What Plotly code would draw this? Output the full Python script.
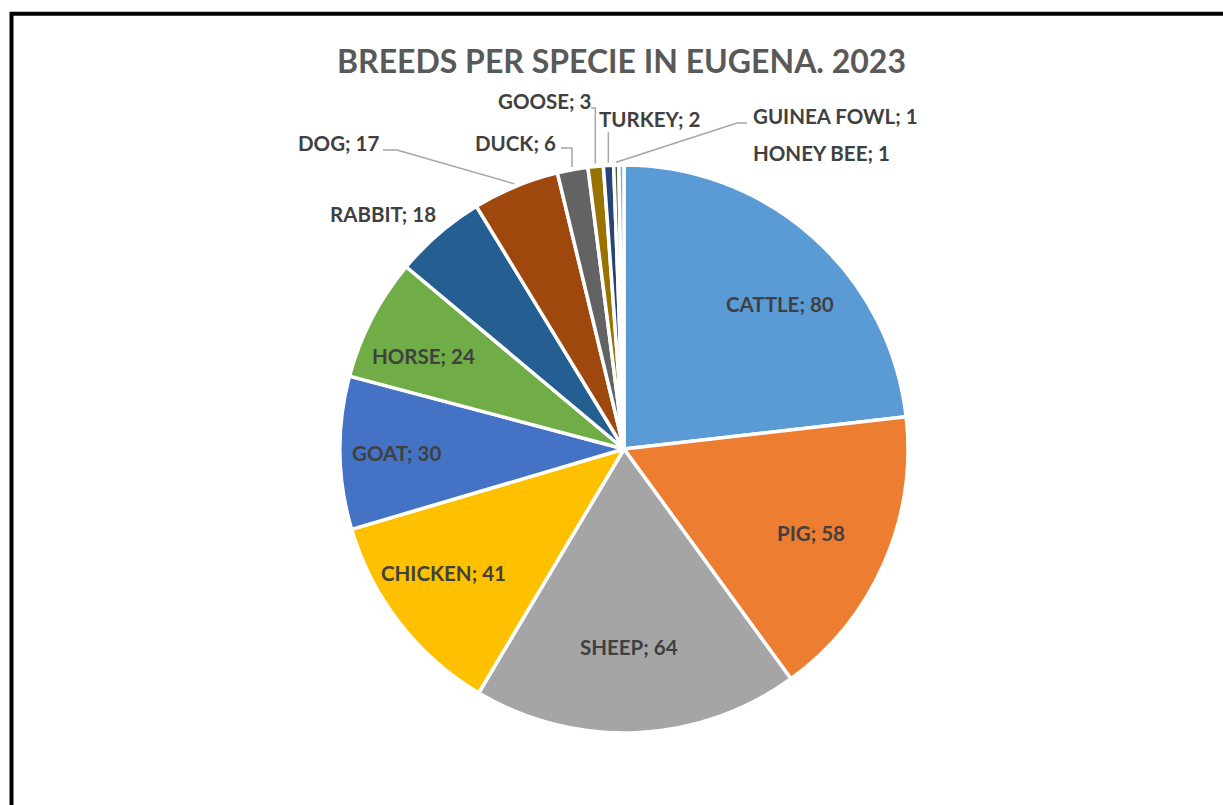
import math
import plotly.graph_objects as go

# ---- data ----
species = ["CATTLE", "PIG", "SHEEP", "CHICKEN", "GOAT", "HORSE", "RABBIT",
           "DOG", "DUCK", "GOOSE", "TURKEY", "GUINEA FOWL", "HONEY BEE"]
breeds = [80, 58, 64, 41, 30, 24, 18, 17, 6, 3, 2, 1, 1]
colors = ["#5B9BD5", "#ED7D31", "#A5A5A5", "#FFC000", "#4472C4", "#70AD47",
          "#255E91", "#9E480E", "#636363", "#997300", "#264478", "#43682B", "#7CAFDD"]
title_text = "BREEDS PER SPECIE IN EUGENA. 2023"

W, H = 1223, 805
CX, CY, R = 624, 449, 284  # pie centre and radius in pixels
FONT = "Lato"
LABEL_COLOR = "#404040"
LABEL_SIZE = 20.5

def px(x):
    return x / W

def py(y):
    return 1 - y / H

fig = go.Figure(go.Pie(
    labels=species, values=breeds, sort=False, direction="clockwise", rotation=0,
    marker=dict(colors=colors, line=dict(color="white", width=3.5)),
    textinfo="none",
    domain=dict(x=[px(CX - R), px(CX + R)], y=[py(CY + R), py(CY - R)]),
    showlegend=False, hoverinfo="label+value",
))

total = sum(breeds)
cum = []
s = 0
for v in breeds:
    cum.append(s + v / 2)
    s += v

def edge_point(i, rf=1.01):
    ang = cum[i] / total * 2 * math.pi
    return CX + R * rf * math.sin(ang), CY - R * rf * math.cos(ang)

# label centres (px), in slice order
label_pos = [
    (780, 304),  # cattle
    (811, 533),  # pig
    (629, 647),  # sheep
    (444, 573),  # chicken
    (396, 453),  # goat
    (423, 356),  # horse
    (383, 214),  # rabbit
    (338, 143),  # dog
    (515, 143),  # duck
    (544, 101),  # goose
    (649, 119),  # turkey
    (835, 116),  # guinea fowl
    (821, 153),  # honey bee
]
annotations = []
for i, (lx, ly) in enumerate(label_pos):
    annotations.append(dict(
        x=px(lx), y=py(ly), xref="paper", yref="paper", showarrow=False,
        text=f"{species[i]}; {breeds[i]}", xanchor="center", yanchor="middle",
        font=dict(family=FONT, size=LABEL_SIZE, color=LABEL_COLOR, weight="bold"),
    ))

annotations.append(dict(
    x=px(621), y=py(60), xref="paper", yref="paper", showarrow=False,
    text=title_text, xanchor="center", yanchor="middle",
    font=dict(family=FONT, size=32, color="#595959", weight="bold"),
))

# leader lines
shapes = []
def path(points):
    d = "M " + " L ".join(f"{px(x):.5f},{py(y):.5f}" for x, y in points)
    return dict(type="path", path=d, xref="paper", yref="paper",
                line=dict(color="#A6A6A6", width=1.5))

ex, ey = edge_point(7)
shapes.append(path([(383, 150), (397, 150), (ex, ey)]))
ex, ey = edge_point(8)
shapes.append(path([(561, 148), (ex, 148), (ex, ey)]))
ex, ey = edge_point(9)
shapes.append(path([(591, 108), (ex, 108), (ex, ey)]))
ex, ey = edge_point(10)
shapes.append(path([(ex, 132), (ex, ey)]))
ex, ey = edge_point(11)
shapes.append(path([(747, 123), (737, 123), (ex, ey)]))

# outer frame
shapes.append(dict(type="rect", xref="paper", yref="paper",
                   x0=px(11.5), x1=1.02, y0=-0.02, y1=py(13.7),
                   line=dict(color="black", width=4), layer="above"))

fig.update_layout(
    width=W, height=H, autosize=False,
    margin=dict(l=0, r=0, t=0, b=0),
    paper_bgcolor="white", plot_bgcolor="white",
    annotations=annotations, shapes=shapes,
)

fig.write_html("out.html", config={"displayModeBar": False},
               post_script="document.body.style.margin='0';document.body.style.overflow='hidden';")
